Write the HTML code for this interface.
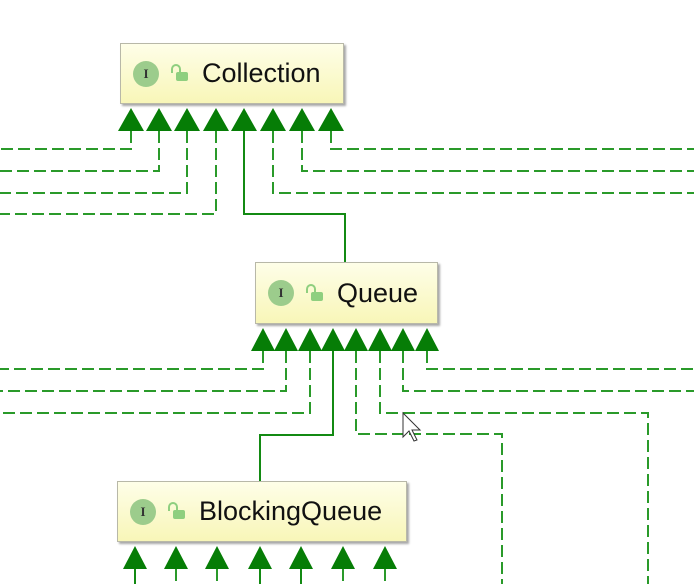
<!DOCTYPE html>
<html><head><style>
html,body{margin:0;padding:0;background:#fff;width:694px;height:584px;overflow:hidden}
.box{position:absolute;background:linear-gradient(#fefee8,#f8f6b8);border:1px solid #b8b8a8;box-shadow:2px 2px 2px #a8a8a8;font-family:"Liberation Sans",sans-serif;font-size:27px;color:#111;display:flex;align-items:center}
.ic{width:26px;height:26px;border-radius:50%;background:#9ccc8c;color:#333;font:bold 13px "Liberation Serif",serif;display:flex;align-items:center;justify-content:center;margin-left:12px}
.lk{width:12px;height:9px;background:#8fcf7f;margin-left:17px;margin-right:14px;position:relative;top:3px;border-radius:2px}
.lk:before{content:"";position:absolute;left:-5px;top:-8px;width:6px;height:7px;border:2px solid #8fcf7f;border-bottom:none;border-radius:5px 5px 0 0}
</style></head><body>
<svg width="694" height="584" style="position:absolute;left:0;top:0">
<g fill="none" stroke="#2a9a2a" stroke-width="2" stroke-dasharray="12,5">
<path d="M131 131V149H0M159 131V171H0M187 131V193H0M216 131V214H0"/>
<path d="M273 131V193H694M302 131V171H694M331 131V149H694"/>
<path d="M263 351V369H0M286 351V391H0M310 351V413H0"/>
<path d="M356 351V434H502V584M380 351V413H648V584M403 351V391H694M427 351V369H694"/>
<path d="M176 569V584M217 569V584M343 569V584M385 569V584"/>
</g>
<g fill="none" stroke="#138a13" stroke-width="2">
<path d="M244 131V214H345V262M333 351V435H260V481M135 569V584M260 569V584M301 569V584"/>
</g>
<g fill="#067d06">
<path d="M131 108l-13 23h26zM159 108l-13 23h26zM187 108l-13 23h26zM216 108l-13 23h26zM244 108l-13 23h26zM273 108l-13 23h26zM302 108l-13 23h26zM331 108l-13 23h26z"/>
<path d="M263 328l-12 23h24zM286 328l-12 23h24zM310 328l-12 23h24zM333 328l-12 23h24zM356 328l-12 23h24zM380 328l-12 23h24zM403 328l-12 23h24zM427 328l-12 23h24z"/>
<path d="M135 546l-12 23h24zM176 546l-12 23h24zM217 546l-12 23h24zM260 546l-12 23h24zM301 546l-12 23h24zM343 546l-12 23h24zM385 546l-12 23h24z"/>
</g>
<path d="M403 413v24l6-6 5 10 3-1-5-10h8z" fill="#fff" stroke="#333" stroke-width="1"/>
</svg>
<div class="box" style="left:120px;top:43px;width:222px;height:59px"><div class="ic">I</div><div class="lk"></div>Collection</div>
<div class="box" style="left:255px;top:262px;width:181px;height:60px"><div class="ic">I</div><div class="lk"></div>Queue</div>
<div class="box" style="left:117px;top:481px;width:288px;height:59px"><div class="ic">I</div><div class="lk"></div>BlockingQueue</div>
</body></html>
